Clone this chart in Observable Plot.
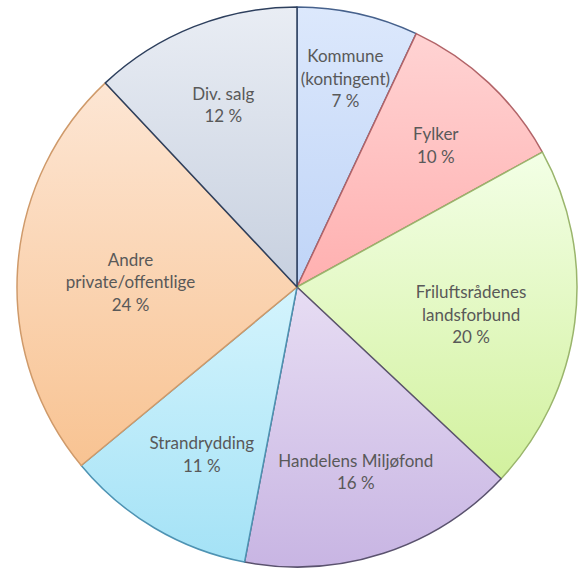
<!DOCTYPE html>
<html>
<head>
<meta charset="utf-8">
<script src="https://cdn.jsdelivr.net/npm/d3@7"></script>
<script src="https://cdn.jsdelivr.net/npm/@observablehq/plot@0.6"></script>
<style>
  html, body { margin: 0; padding: 0; background: #fff; }
</style>
</head>
<body>
<div id="chart"></div>
<script>
// Data
const categories = ["Kommune\n(kontingent)", "Fylker", "Friluftsrådenes\nlandsforbund", "Handelens Miljøfond", "Strandrydding", "Andre\nprivate/offentlige", "Div. salg"];
const values = [7, 10, 20, 16, 11, 24, 12];
const fillTop    = ["#dce8fc", "#ffd3d3", "#f3ffe6", "#e7ddf3", "#d4f4fd", "#fde6d4", "#e9edf4"];
const fillBottom = ["#bfd4f7", "#ffb0b0", "#d2f19e", "#c8b5e3", "#a4e2f6", "#f8c392", "#c7d0df"];
const strokes    = ["#46618c", "#b26468", "#9ab56c", "#5a526e", "#4e93b3", "#cf9a6a", "#2d3f5d"];

const FONT_SIZE = 17, LINE_H = 1.32;
const FONT = "Lato, 'Open Sans', sans-serif";
const R_PX = 280;

// measure label lines; place labels inside slices (best-fit style)
const ctx = document.createElement("canvas").getContext("2d");
ctx.font = `${FONT_SIZE}px Lato`;

const pie = d3.pie().value(d => d).sort(null)(values);

function fits(cx, cy, lineBoxes, a0, a1, margin) {
  for (const b of lineBoxes) {
    const y = cy + b.dy, hw = b.w / 2, hh = b.h / 2;
    const corners = [[cx - hw, y - hh], [cx + hw, y - hh], [cx - hw, y + hh], [cx + hw, y + hh]];
    for (const [px, py] of corners) {
      const d0 = px * Math.cos(a0) + py * Math.sin(a0);
      const d1 = -(px * Math.cos(a1) + py * Math.sin(a1));
      if (d0 < margin || d1 < margin) return false;
    }
  }
  return true;
}

const rows = pie.map((p, i) => {
  const a = (p.startAngle + p.endAngle) / 2;
  const label = categories[i] + "\n" + values[i] + " %";
  const lines = label.split("\n");
  const lh = FONT_SIZE * LINE_H;
  const boxes = lines.map((l, j) => ({
    w: ctx.measureText(l).width,
    h: FONT_SIZE * 0.8,
    dy: (j - (lines.length - 1) / 2) * lh
  }));
  const w = Math.max(...boxes.map(b => b.w));
  const h = lines.length * lh;
  const ext = Math.abs(Math.sin(a)) * w / 2 + Math.abs(Math.cos(a)) * h / 2;
  let r = 234 - ext;
  while (r < R_PX - 40 && !fits(Math.sin(a) * r, -Math.cos(a) * r, boxes, p.startAngle, p.endAngle, 3)) r += 1;
  r /= R_PX;
  return { label, lx: Math.sin(a) * r, ly: Math.cos(a) * r, i };
});

function slices(index, scales, vals, dimensions, context) {
  const svgNS = "http://www.w3.org/2000/svg";
  const g = document.createElementNS(svgNS, "g");
  const cx = scales.x(0), cy = scales.y(0);
  const r = scales.x(1) - scales.x(0);
  const defs = document.createElementNS(svgNS, "defs");
  g.appendChild(defs);
  const arc = d3.arc().innerRadius(0).outerRadius(r);
  pie.forEach((p, i) => {
    const lg = document.createElementNS(svgNS, "linearGradient");
    lg.setAttribute("id", "grad" + i);
    lg.setAttribute("x1", "0"); lg.setAttribute("y1", "0");
    lg.setAttribute("x2", "0"); lg.setAttribute("y2", "1");
    const s1 = document.createElementNS(svgNS, "stop");
    s1.setAttribute("offset", "0"); s1.setAttribute("stop-color", fillTop[i]);
    const s2 = document.createElementNS(svgNS, "stop");
    s2.setAttribute("offset", "1"); s2.setAttribute("stop-color", fillBottom[i]);
    lg.appendChild(s1); lg.appendChild(s2);
    defs.appendChild(lg);
  });
  pie.forEach((p, i) => {
    const path = document.createElementNS(svgNS, "path");
    path.setAttribute("d", arc(p));
    path.setAttribute("transform", `translate(${cx},${cy})`);
    path.setAttribute("fill", `url(#grad${i})`);
    path.setAttribute("stroke", strokes[i]);
    path.setAttribute("stroke-width", "1.5");
    path.setAttribute("stroke-linejoin", "round");
    g.appendChild(path);
  });
  return g;
}

const chart = Plot.plot({
  width: 584,
  height: 568,
  margin: 0,
  x: {domain: [-1, 1], range: [17, 577], axis: null},
  y: {domain: [-1, 1], range: [567, 7], axis: null},
  style: {background: "#fff", fontFamily: FONT},
  marks: [
    slices,
    Plot.text(rows, {
      x: "lx", y: "ly", text: "label", dy: 4,
      fill: "#595959", fontSize: FONT_SIZE, lineHeight: LINE_H,
      fontFamily: FONT
    })
  ]
});
document.getElementById("chart").appendChild(chart);
</script>
</body>
</html>
